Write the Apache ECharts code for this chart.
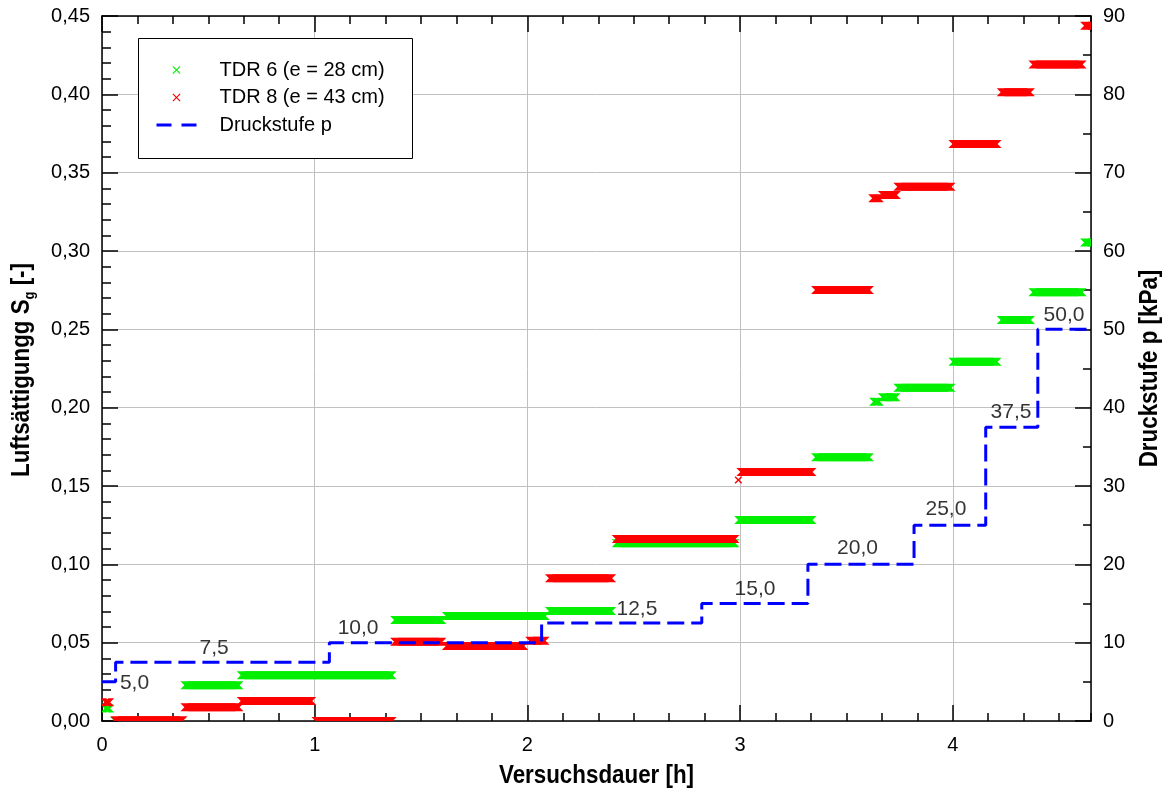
<!DOCTYPE html>
<html><head><meta charset="utf-8">
<script src="https://cdn.jsdelivr.net/npm/echarts@6/dist/echarts.min.js"></script>
<style>html,body{margin:0;padding:0;background:#fff}#c{width:1169px;height:791px}</style>
</head><body><div id="c"></div>
<script>
// ---- data ----
// TDR plateaus: [first time (h), last time (h), S_g (-)]
const tdr6Segments = [
  [0.016, 0.034, 0.0080],
  [0.062, 0.369, 0.0000],
  [0.392, 0.642, 0.0228],
  [0.657, 1.362, 0.0292],
  [1.378, 1.596, 0.0645],
  [1.621, 2.082, 0.0670],
  [2.106, 2.394, 0.0702],
  [2.420, 2.974, 0.1134],
  [2.996, 3.336, 0.1283],
  [3.357, 3.606, 0.1683],
  [3.630, 3.653, 0.2038],
  [3.671, 3.731, 0.2066],
  [3.744, 3.990, 0.2127],
  [4.003, 4.206, 0.2293],
  [4.230, 4.363, 0.2559],
  [4.379, 4.606, 0.2736],
  [4.622, 4.660, 0.3055]
];
const tdr8Segments = [
  [0.016, 0.034, 0.0120],
  [0.062, 0.379, 0.0005],
  [0.392, 0.642, 0.0087],
  [0.657, 0.984, 0.0128],
  [1.008, 1.362, 0.0000],
  [1.378, 1.596, 0.0506],
  [1.621, 1.981, 0.0479],
  [2.013, 2.081, 0.0513],
  [2.106, 2.394, 0.0911],
  [2.420, 2.974, 0.1162],
  [2.992, 2.992, 0.1538],
  [3.006, 3.336, 0.1590],
  [3.357, 3.606, 0.2751],
  [3.626, 3.653, 0.3336],
  [3.671, 3.733, 0.3357],
  [3.744, 3.990, 0.3410],
  [4.003, 4.206, 0.3683],
  [4.230, 4.363, 0.4013],
  [4.379, 4.606, 0.4191],
  [4.622, 4.660, 0.4438]
];
// pressure steps: time of change (h) and new pressure (kPa)
const stepTimes     = [0.000, 0.064, 1.069, 2.067, 2.820, 3.319, 3.818, 4.155, 4.400, 4.650];
const stepPressures = [5.0,   7.5,   10.0,  12.5,  15.0,  20.0,  25.0,  37.5,  50.0,  50.0];
// annotation text values and their anchor points [h, kPa]
const stepLabelValues  = [5.0, 7.5, 10.0, 12.5, 15.0, 20.0, 25.0, 37.5, 50.0];
const stepLabelAnchors = [[0.153, 4.8], [0.527, 9.3], [1.204, 11.9], [2.515, 14.3], [3.07, 16.8],
                          [3.552, 22.1], [3.968, 27.1], [4.274, 39.4], [4.523, 51.8]];
const seriesNames = ['TDR 6 (e = 28 cm)', 'TDR 8 (e = 43 cm)', 'Druckstufe p'];
const axisTitles = {x: 'Versuchsdauer [h]', yLeft: ['Luftsättigungg S', 'g', ' [-]'], yRight: 'Druckstufe p [kPa]'};

// ---- chart ----
const FONT = "'Liberation Sans', Arial, sans-serif";
const GREEN = '#00f000', RED = '#ff0000', BLUE = '#0000ff';
const comma = (v, d) => v.toFixed(d).replace('.', ',');
const xIcon = 'path://M0,1L1,0L5,4L9,0L10,1L6,5L10,9L9,10L5,6L1,10L0,9L4,5Z';

function segRender(color) {
  return function (params, api) {
    const a = api.coord([api.value(0), api.value(2)]);
    const b = api.coord([api.value(1), api.value(2)]);
    const r = 3.3, y = a[1];
    const style = {fill: color, stroke: color, lineWidth: 1.4};
    return {type: 'group', children: [
      {type: 'polygon', shape: {points: [[a[0]-r, y-r], [b[0]-r, y-r], [b[0]+r, y+r], [a[0]+r, y+r]]}, style: style},
      {type: 'polygon', shape: {points: [[a[0]-r, y+r], [b[0]-r, y+r], [b[0]+r, y-r], [a[0]+r, y-r]]}, style: style}
    ]};
  };
}

const gridRect = {left: 102, right: 78, top: 16, bottom: 70, outerBoundsMode: 'none', containLabel: false};
const axisLineStyle = {color: '#000', width: 1.5};
const gridLine = {show: true, lineStyle: {color: '#c0c0c0', width: 1}};
const hidden = {axisLine: {show: false}, axisLabel: {show: false}, splitLine: {show: false}};
const titleStyle = {fontFamily: FONT, fontWeight: 'bold', fontSize: 26, fill: '#000', align: 'center', verticalAlign: 'middle'};
const TSX = 0.86; // condensed look of the titles

const option = {
  animation: false,
  backgroundColor: '#fff',
  grid: [Object.assign({}, gridRect), Object.assign({}, gridRect)],
  xAxis: [
    {type: 'value', gridIndex: 0, position: 'bottom', min: 0, max: 4.65, interval: 1,
     axisLine: {show: true, onZero: false, lineStyle: axisLineStyle},
     axisTick: {show: true, inside: true, length: 16, lineStyle: axisLineStyle},
     axisLabel: {show: true, margin: 14, color: '#000', fontSize: 20, fontFamily: FONT,
                 showMaxLabel: false, formatter: v => String(Math.round(v))},
     splitLine: gridLine},
    {type: 'value', gridIndex: 0, position: 'top', min: 0, max: 4.65, interval: 1,
     axisLine: {show: true, onZero: false, lineStyle: axisLineStyle},
     axisTick: {show: true, inside: true, length: 16, lineStyle: axisLineStyle},
     axisLabel: {show: false}, splitLine: {show: false}},
    Object.assign({type: 'value', gridIndex: 1, position: 'bottom', min: 0, max: 4.65, interval: 1/6,
     axisTick: {show: true, inside: true, length: 8, lineStyle: axisLineStyle}}, hidden),
    Object.assign({type: 'value', gridIndex: 1, position: 'top', min: 0, max: 4.65, interval: 1/6,
     axisTick: {show: true, inside: true, length: 8, lineStyle: axisLineStyle}}, hidden)
  ],
  yAxis: [
    {type: 'value', gridIndex: 0, position: 'left', min: 0, max: 0.45, interval: 0.05,
     axisLine: {show: true, onZero: false, lineStyle: axisLineStyle},
     axisTick: {show: true, inside: true, length: 16, lineStyle: axisLineStyle},
     minorTick: {show: true, splitNumber: 5, length: 9, lineStyle: axisLineStyle},
     axisLabel: {margin: 12, color: '#000', fontSize: 20, fontFamily: FONT, formatter: v => comma(v, 2)},
     splitLine: gridLine},
    {type: 'value', gridIndex: 0, position: 'right', min: 0, max: 90, interval: 10,
     axisLine: {show: true, onZero: false, lineStyle: axisLineStyle},
     axisTick: {show: true, inside: true, length: 16, lineStyle: axisLineStyle},
     minorTick: {show: true, splitNumber: 2, length: 8, lineStyle: axisLineStyle},
     axisLabel: {margin: 12, color: '#000', fontSize: 20, fontFamily: FONT, formatter: v => String(Math.round(v))},
     splitLine: {show: false}},
    Object.assign({type: 'value', gridIndex: 1, position: 'left', min: 0, max: 0.45, axisTick: {show: false}}, hidden)
  ],
  legend: {
    orient: 'vertical', left: 155, top: 60, padding: 0, itemGap: 7.5,
    itemWidth: 40, itemHeight: 8,
    textStyle: {fontFamily: FONT, fontSize: 20, color: '#000', lineHeight: 20, padding: [0, 0, 0, 18]},
    data: [
      {name: seriesNames[0], icon: xIcon},
      {name: seriesNames[1], icon: xIcon},
      {name: seriesNames[2], itemStyle: {color: 'rgba(0,0,0,0)', borderWidth: 0},
       lineStyle: {color: BLUE, width: 3, type: [15, 10], opacity: 1}}
    ],
    z: 10
  },
  graphic: [
    {type: 'rect', left: 138, top: 38, z: 5,
     shape: {width: 274, height: 120},
     style: {fill: '#fff', stroke: '#000', lineWidth: 1}},
    {type: 'text', x: 596.5, y: 776, scaleX: TSX, z: 10,
     style: Object.assign({text: axisTitles.x}, titleStyle)},
    {type: 'text', x: 22, y: 370, rotation: Math.PI / 2, scaleX: TSX, z: 10,
     style: Object.assign({}, titleStyle, {
       text: '{t|' + axisTitles.yLeft[0] + '}{s|' + axisTitles.yLeft[1] + '}{t|' + axisTitles.yLeft[2] + '}',
       rich: {
         t: {fontFamily: FONT, fontWeight: 'bold', fontSize: 26, lineHeight: 30, fill: '#000'},
         s: {fontFamily: FONT, fontWeight: 'bold', fontSize: 15, fill: '#000', verticalAlign: 'bottom'}
       }})},
    {type: 'text', x: 1150, y: 368.5, rotation: Math.PI / 2, scaleX: TSX, z: 10,
     style: Object.assign({text: axisTitles.yRight}, titleStyle)}
  ],
  series: [
    {name: seriesNames[0], type: 'custom', xAxisIndex: 0, yAxisIndex: 0, clip: true,
     itemStyle: {color: GREEN}, renderItem: segRender(GREEN), encode: {x: [0, 1], y: 2},
     data: tdr6Segments, z: 2},
    {name: seriesNames[1], type: 'custom', xAxisIndex: 0, yAxisIndex: 0, clip: true,
     itemStyle: {color: RED}, renderItem: segRender(RED), encode: {x: [0, 1], y: 2},
     data: tdr8Segments, z: 3},
    {name: seriesNames[2], type: 'line', xAxisIndex: 0, yAxisIndex: 1, step: 'end',
     symbol: 'none', showSymbol: false, clip: true,
     lineStyle: {color: BLUE, width: 3, type: [17, 7]}, itemStyle: {color: BLUE},
     data: stepTimes.map((t, i) => [t, stepPressures[i]]), z: 4},
    {type: 'scatter', xAxisIndex: 0, yAxisIndex: 1, symbol: 'circle', symbolSize: 0, silent: true,
     itemStyle: {color: '#000'},
     label: {show: true, position: 'inside', color: '#000', fontSize: 21, fontFamily: FONT},
     data: stepLabelAnchors.map((a, i) => ({value: a, label: {formatter: comma(stepLabelValues[i], 1)}})),
     z: 6}
  ]
};
const chart = echarts.init(document.getElementById('c'), null, {renderer: 'canvas'});
chart.setOption(option);
</script></body></html>
